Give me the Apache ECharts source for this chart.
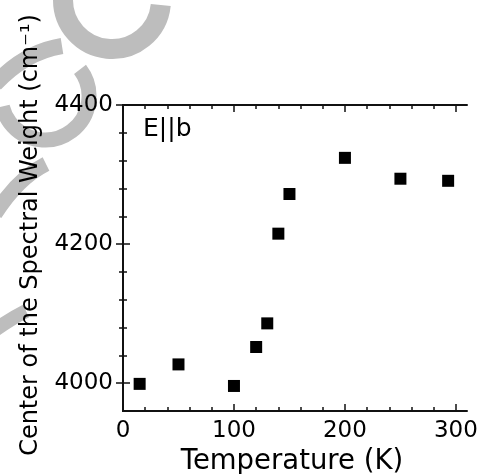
<!DOCTYPE html>
<html>
<head>
<meta charset="utf-8">
<script src="https://cdn.jsdelivr.net/npm/echarts@6/dist/echarts.min.js"></script>
<style>
html,body{margin:0;padding:0;background:#fff}
#chart{width:479px;height:474px}
</style>
</head>
<body>
<div id="chart"></div>
<script>
// data
var temps = [15, 50, 100, 120, 130, 140, 150, 200, 250, 293];
var centers = [3999, 4027, 3996, 4052, 4086, 4215, 4272, 4324, 4294, 4291];
var xMajor = [0, 100, 200, 300];
var xMinor = [20, 40, 60, 80, 120, 140, 160, 180, 220, 240, 260, 280];
var yMajor = [4000, 4200, 4400];
var yMinor = [4040, 4080, 4120, 4160, 4240, 4280, 4320, 4360];

var FONT = 'DejaVu Sans';
var INK = '#111';

function plain(v) { return String(v); }

function xAx(pos, ticks, len, main) {
    return {
        type: 'value', position: pos, min: 0, max: 310,
        axisLine: {show: main, lineStyle: {color: INK, width: 2}},
        axisTick: {show: true, inside: true, length: len, customValues: ticks, lineStyle: {color: INK, width: 1.5}},
        axisLabel: {show: main && pos == 'bottom', customValues: xMajor, formatter: plain, color: '#000', fontFamily: FONT, fontSize: 23, margin: 9},
        splitLine: {show: false},
        name: (main && pos == 'bottom') ? 'Temperature (K)' : '',
        nameLocation: 'middle', nameGap: 37,
        nameTextStyle: {color: '#000', fontFamily: FONT, fontSize: 27.5, padding: [0, 6, 0, 0]}
    };
}
function yAx(pos, ticks, len, main) {
    return {
        type: 'value', position: pos, min: 3960, max: 4400,
        axisLine: {show: main, lineStyle: {color: INK, width: 2}},
        axisTick: {show: true, inside: true, length: len, customValues: ticks, lineStyle: {color: INK, width: 1.5}},
        axisLabel: {show: main && pos == 'left', customValues: yMajor, formatter: plain, color: '#000', fontFamily: FONT, fontSize: 23, margin: 10},
        splitLine: {show: false},
        name: (main && pos == 'left') ? 'Center of the Spectral Weight (cm\u207B\u00B9)' : '',
        nameLocation: 'middle', nameGap: 80,
        nameTextStyle: {color: '#000', fontFamily: FONT, fontSize: 24, padding: [0, 0, 0, 46]}
    };
}

var chart = echarts.init(document.getElementById('chart'));
function grey(w) { return {stroke: '#bdbdbd', fill: null, lineWidth: w, lineCap: 'butt'}; }
chart.setOption({
    animation: false,
    backgroundColor: '#fff',
    grid: {left: 123, right: 12, top: 105, bottom: 63, containLabel: false, outerBoundsMode: 'none'},
    xAxis: [
        xAx('bottom', xMajor, 7, true),
        xAx('bottom', xMinor, 4, false),
        xAx('top', xMajor, 7, true),
        xAx('top', xMinor, 4, false)
    ],
    yAxis: [
        yAx('left', yMajor, 7, true),
        yAx('left', yMinor, 4, false),
        yAx('right', yMajor, 7, true),
        yAx('right', yMinor, 4, false)
    ],
    graphic: [
        // grey watermark pieces behind the chart
        {type: 'arc', z: -10, shape: {cx: 112, cy: 0, r: 49, startAngle: 0.1, endAngle: Math.PI}, style: grey(20)},
        {type: 'arc', z: -10, shape: {cx: 45, cy: 96, r: 44, startAngle: -0.65, endAngle: 2.9}, style: grey(15)},
        {type: 'bezierCurve', z: -10, shape: {x1: 62, y1: 46, cpx1: 25, cpy1: 52, x2: -5, y2: 84}, style: grey(16)},
        {type: 'bezierCurve', z: -10, shape: {x1: 46, y1: 164, cpx1: 18, cpy1: 178, x2: -5, y2: 214}, style: grey(15)},
        {type: 'bezierCurve', z: -10, shape: {x1: 26, y1: 311, cpx1: 12, cpy1: 318, x2: -5, y2: 330}, style: grey(14)},
        {type: 'text', left: 143, top: 117, style: {text: 'E||b', font: '25px "DejaVu Sans"', fill: '#000'}}
    ],
    series: [{
        type: 'scatter',
        xAxisIndex: 0, yAxisIndex: 0,
        symbol: 'rect', symbolSize: 12,
        itemStyle: {color: '#000', opacity: 1},
        data: temps.map(function (t, i) { return [t, centers[i]]; })
    }]
});
</script>
</body>
</html>
